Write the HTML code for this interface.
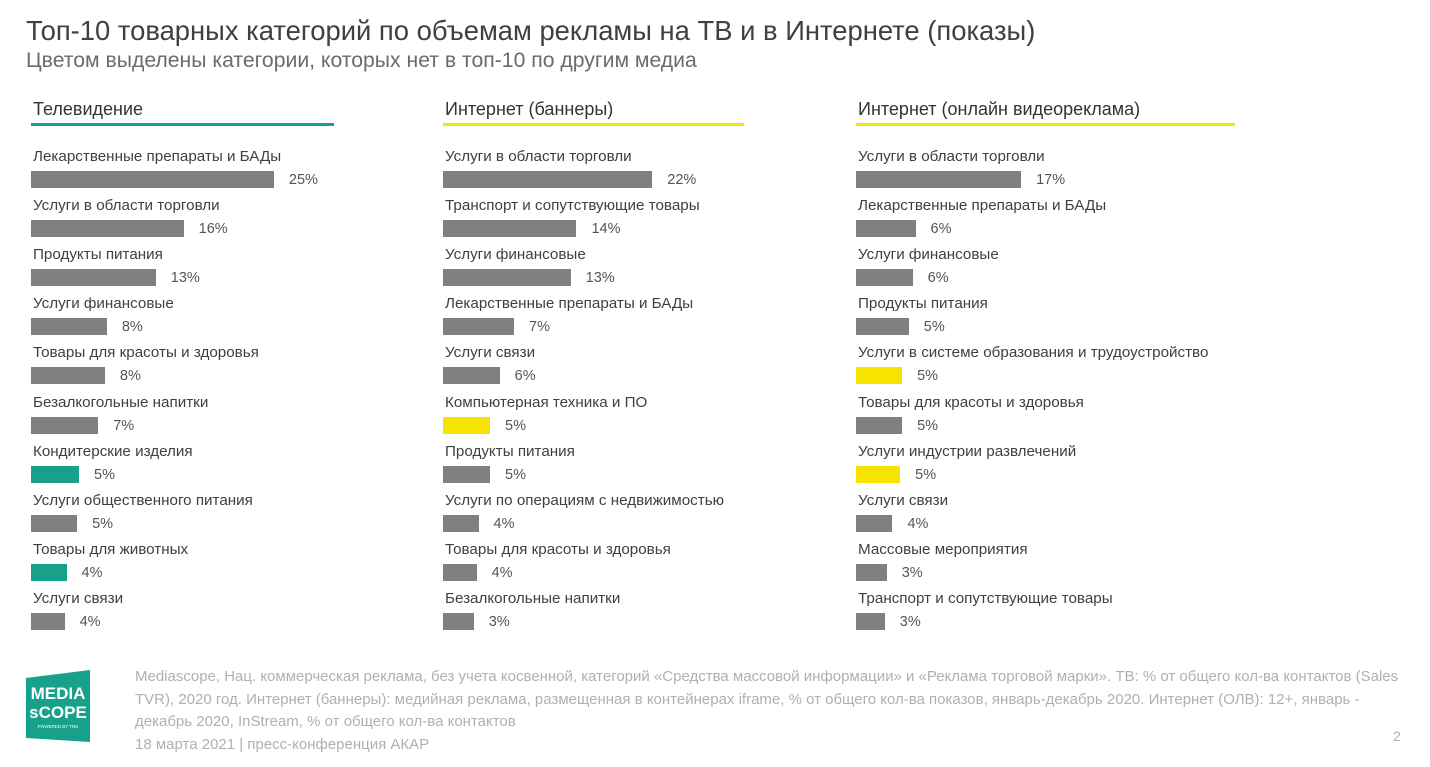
<!DOCTYPE html>
<html><head><meta charset="utf-8"><style>
body{margin:0;width:1430px;height:767px;background:#fff;font-family:"Liberation Sans",sans-serif;position:relative;overflow:hidden}
.t{position:absolute;white-space:nowrap}
</style></head><body>
<div class="t" style="left:26px;top:15px;font-size:27.4px;color:#404040">Топ-10 товарных категорий по объемам рекламы на ТВ и в Интернете (показы)</div>
<div class="t" style="left:26px;top:49px;font-size:21.2px;color:#6b6b6b">Цветом выделены категории, которых нет в топ-10 по другим медиа</div>
<div id="charts"></div>
<div class="t" style="left:135px;top:666px;font-size:15px;line-height:22.5px;color:#b0b0b0;white-space:normal;width:1282px">Mediascope, Нац. коммерческая реклама, без учета косвенной, категорий «Средства массовой информации» и «Реклама торговой марки». ТВ: % от общего кол-ва контактов (Sales TVR), 2020 год. Интернет (баннеры): медийная реклама, размещенная в контейнерах iframe, % от общего кол-ва показов, январь-декабрь 2020. Интернет (ОЛВ): 12+, январь - декабрь 2020, InStream, % от общего кол-ва контактов<br>18 марта 2021 | пресс-конференция АКАР</div>
<div class="t" style="left:1393px;top:728px;font-size:14px;color:#b0b0b0">2</div>
<svg style="position:absolute;left:26px;top:670px" width="66" height="75"><polygon points="0,8 64,0 64,72 0,68" fill="#17a08a"/><text x="32" y="29" font-size="17" fill="#fff" text-anchor="middle" font-family="Liberation Sans Narrow,Liberation Sans" font-weight="bold">MEDIA</text><text x="32" y="48" font-size="17" fill="#fff" text-anchor="middle" font-family="Liberation Sans Narrow,Liberation Sans" font-weight="bold">sCOPE</text><text x="32" y="58" font-size="4.5" fill="#fff" text-anchor="middle">POWERED BY TNS</text></svg>
<script>
const tvCats=["Лекарственные препараты и БАДы","Услуги в области торговли","Продукты питания","Услуги финансовые","Товары для красоты и здоровья","Безалкогольные напитки","Кондитерские изделия","Услуги общественного питания","Товары для животных","Услуги связи"];
const tvVals=[25.3,15.9,13,7.9,7.7,7,5,4.8,3.7,3.5];
const tvLabels=["25%","16%","13%","8%","8%","7%","5%","5%","4%","4%"];
const tvHi=[0,0,0,0,0,0,1,0,1,0];
const bnCats=["Услуги в области торговли","Транспорт и сопутствующие товары","Услуги финансовые","Лекарственные препараты и БАДы","Услуги связи","Компьютерная техника и ПО","Продукты питания","Услуги по операциям с недвижимостью","Товары для красоты и здоровья","Безалкогольные напитки"];
const bnVals=[21.8,13.9,13.3,7.4,5.9,4.9,4.9,3.7,3.5,3.2];
const bnLabels=["22%","14%","13%","7%","6%","5%","5%","4%","4%","3%"];
const bnHi=[0,0,0,0,0,1,0,0,0,0];
const vdCats=["Услуги в области торговли","Лекарственные препараты и БАДы","Услуги финансовые","Продукты питания","Услуги в системе образования и трудоустройство","Товары для красоты и здоровья","Услуги индустрии развлечений","Услуги связи","Массовые мероприятия","Транспорт и сопутствующие товары"];
const vdVals=[17.2,6.2,5.9,5.5,4.8,4.8,4.6,3.8,3.2,3.0];
const vdLabels=["17%","6%","6%","5%","5%","5%","5%","4%","3%","3%"];
const vdHi=[0,0,0,0,1,0,1,0,0,0];
const panels=[
 {name:"tv",title:"Телевидение",x:31,lineW:303,color:"#17a08a",cats:tvCats,vals:tvVals,labels:tvLabels,hi:tvHi,hc:"#17a08a"},
 {name:"banners",title:"Интернет (баннеры)",x:443,lineW:301,color:"#f2e500",cats:bnCats,vals:bnVals,labels:bnLabels,hi:bnHi,hc:"#f7e300"},
 {name:"video",title:"Интернет (онлайн видеореклама)",x:856,lineW:379,color:"#f2e500",cats:vdCats,vals:vdVals,labels:vdLabels,hi:vdHi,hc:"#f7e300"}];
const scale=v=>v*9.6;
const rowY=i=>147+i*49.1;
const root=document.getElementById('charts');
panels.forEach(p=>{
 const g=document.createElement('div');
 
 
 root.appendChild(g);
 const h=document.createElement('div');h.className='t';
 
 
 h.style.cssText=`left:${p.x+2}px;top:99px;font-size:18px;color:#333`;h.textContent=p.title;g.appendChild(h);
 const l=document.createElement('div');
 
 
 l.style.cssText=`position:absolute;left:${p.x}px;top:123px;width:${p.lineW}px;height:3px;background:${p.color}`;g.appendChild(l);
 p.cats.forEach((c,i)=>{
  const y=rowY(i);
  const t=document.createElement('div');t.className='t';
  
  
  t.style.cssText=`left:${p.x+2}px;top:${y+1}px;font-size:15.2px;color:#404040`;t.textContent=c;g.appendChild(t);
  const w=scale(p.vals[i]);
  const b=document.createElement('div');
  
  
  b.style.cssText=`position:absolute;left:${p.x}px;top:${y+24}px;width:${w}px;height:17px;background:${p.hi[i]?p.hc:'#808080'}`;g.appendChild(b);
  const v=document.createElement('div');v.className='t';
  
  
  v.style.cssText=`left:${p.x+w+15}px;top:${y+25}px;font-size:14.5px;color:#555`;v.textContent=p.labels[i];g.appendChild(v);
 });
});
</script>
</body></html>
